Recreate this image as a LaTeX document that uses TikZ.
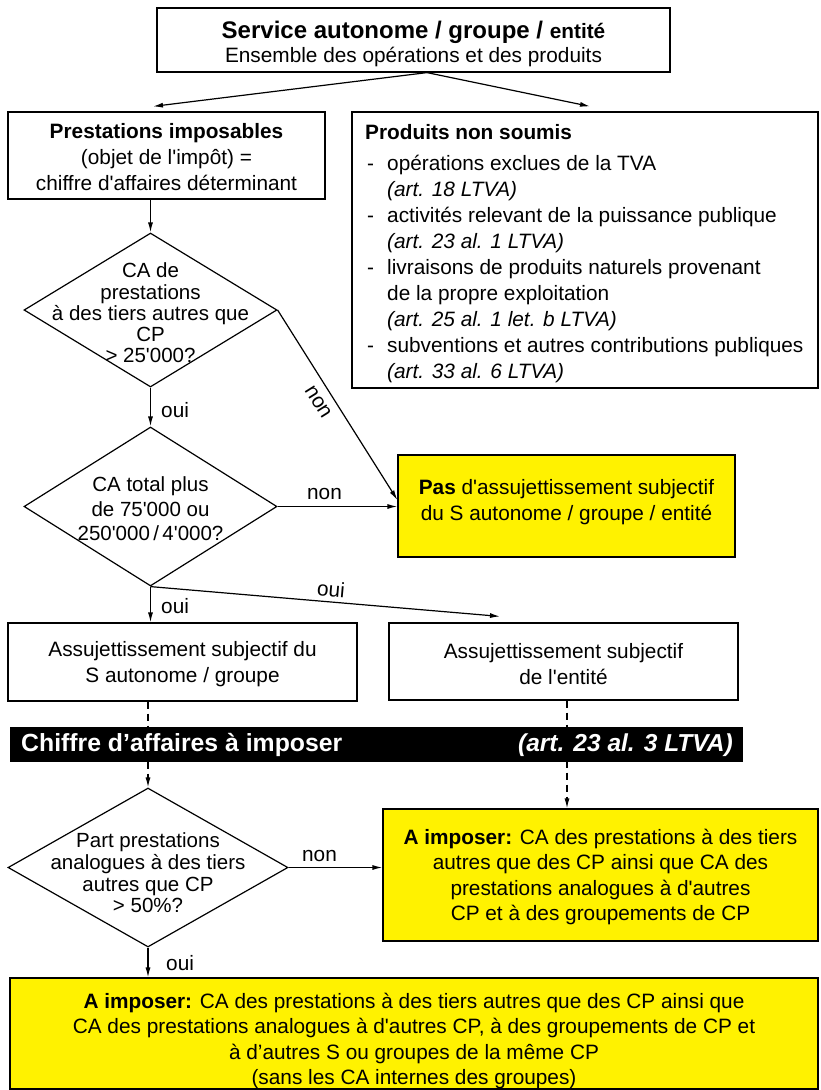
\documentclass[tikz,border=0pt]{standalone}
\usepackage{fontspec}
\setmainfont{Liberation Sans}[Ligatures=TeXOff]
\usetikzlibrary{shapes.geometric,arrows.meta}
\begin{document}
\begin{tikzpicture}[x=1pt,y=-1pt]
\tikzset{
  base/.style={font=\fontsize{20.8}{26}\selectfont, align=center, inner sep=0pt},
  box/.style={base, draw, line width=1.2pt},
  ybox/.style={box, fill=yellow},
  dia/.style={draw, line width=1.2pt, diamond, inner sep=0pt},
  arr/.style={line width=1.2pt, -{Latex[length=10pt,width=5pt]}},
  dashline/.style={dash pattern=on 7pt off 5pt},
  lbl/.style={font=\fontsize{20.8}{24}\selectfont, inner sep=0pt},
  bartext/.style={text=white, inner sep=0pt, font=\fontsize{24.8}{24}\selectfont\bfseries}
}
\useasboundingbox (0,0) rectangle (820,1090);
\fill[white] (0,0) rectangle (820,1090);

% boxes
\node[box, minimum width=513, minimum height=64] (top) at (413.5,40) {};
\node[base, font=\fontsize{20.8}{22}\selectfont] (topt) at (413.5,44)
  {{\fontsize{24}{22}\selectfont\bfseries Service autonome / groupe / \fontsize{20.8}{22}\selectfont entité}\\[2pt]Ensemble des opérations et des produits};
\node[box, minimum width=317, minimum height=87] (lb1) at (166.5,155.5) {};
\node[base] (lb1t) at (166.5,157.5)
  {\textbf{Prestations imposables}\\(objet de l'impôt) =\\chiffre d'affaires déterminant};
\node[box, minimum width=466, minimum height=276] (rb1) at (585,250) {};
\node[base, align=left, anchor=north west] (rb1t) at (365,124)
  {\textbf{Produits non soumis}\\[5pt]
   \makebox[22pt][l]{\hspace{2pt}-}opérations exclues de la TVA\\
   \hspace*{22pt}\textit{(art. 18 LTVA)}\\
   \makebox[22pt][l]{\hspace{2pt}-}activités relevant de la puissance publique\\
   \hspace*{22pt}\textit{(art. 23 al. 1 LTVA)}\\
   \makebox[22pt][l]{\hspace{2pt}-}livraisons de produits naturels provenant\\
   \hspace*{22pt}de la propre exploitation\\
   \hspace*{22pt}\textit{(art. 25 al. 1 let. b LTVA)}\\
   \makebox[22pt][l]{\hspace{2pt}-}subventions et autres contributions publiques\\
   \hspace*{22pt}\textit{(art. 33 al. 6 LTVA)}};

% diamonds
\node[dia, minimum width=253, minimum height=154] (d1) at (150.5,310) {};
\node[lbl, align=center, font=\fontsize{20.5}{21.3}\selectfont] (d1t) at (150.5,313)
  {CA de\\prestations\\à des tiers autres que\\CP\\> 25'000?};
\node[dia, minimum width=253, minimum height=159] (d2) at (150.5,506.5) {};
\node[lbl, align=center, font=\fontsize{20.5}{24.5}\selectfont] (d2t) at (150.5,509)
  {CA total plus\\de 75'000 ou\\250'000\,/\,4'000?};
\node[dia, minimum width=280, minimum height=159] (d3) at (148,867.5) {};
\node[lbl, align=center, font=\fontsize{20.5}{21.7}\selectfont] (d3t) at (148,873)
  {Part prestations\\analogues à des tiers\\autres que CP\\> 50\%?};

\node[ybox, minimum width=337, minimum height=102] (yb1) at (566.5,506) {};
\node[base] (yb1t) at (566.5,502) {\textbf{Pas} d'assujettissement subjectif\\du S autonome / groupe / entité};

\node[box, minimum width=349, minimum height=78] (lb2) at (182.5,662) {};
\node[base] (lb2t) at (182.5,664) {Assujettissement subjectif du\\S autonome / groupe};
\node[box, minimum width=349, minimum height=77] (rb2) at (563.5,661.5) {};
\node[base] (rb2t) at (563.5,664) {Assujettissement subjectif\\de l'entité};

\node[ybox, minimum width=435, minimum height=132] (yb2) at (600.5,875) {};
\node[base, font=\fontsize{20.8}{25.3}\selectfont] (yb2t) at (600.5,877)
  {\textbf{A imposer:} CA des prestations à des tiers\\autres que des CP ainsi que CA des\\prestations analogues à d'autres\\CP et à des groupements de CP};
\node[ybox, minimum width=808, minimum height=111] (bb) at (414,1033.5) {};
\node[base, font=\fontsize{20.8}{25.3}\selectfont] (bbt) at (414,1041)
  {\textbf{A imposer:} CA des prestations à des tiers autres que des CP ainsi que\\CA des prestations analogues à d'autres CP, à des groupements de CP et\\à d’autres S ou groupes de la même CP\\(sans les CA internes des groupes)};

% connectors
\draw[arr] ([xshift=13.5pt]top.south) -- ([xshift=-13.5pt,yshift=5pt]lb1.north);
\draw[arr] ([xshift=13.5pt]top.south) -- ([xshift=5pt,yshift=5pt]rb1.north);
\draw[arr] (lb1.south -| d1.north) -- (d1.north);
\draw[arr] (d1.south) -- (d2.north);
\draw[arr] (d1.east) -- ([yshift=6pt]yb1.west);
\draw[arr] (d2.east) -- (d2.east -| yb1.west);
\draw[arr] (d2.south) -- (d2.south |- lb2.north);
\draw[arr] (d2.south) -- ([xshift=-63.5pt,yshift=6pt]rb2.north);
\draw[arr, dashline] (d3.north |- lb2.south) -- (d3.north);
\draw[arr, dashline] ([xshift=3.5pt]rb2.south) -- ([xshift=3.5pt]rb2.south |- yb2.north);
\draw[arr] (d3.east) -- (d3.east -| yb2.west);
\draw[arr] (d3.south) -- (d3.south |- bb.north);

% black bar
\node[fill=black, minimum width=733, minimum height=35, inner sep=0pt] (bar) at (376.5,744.5) {};
\node[bartext, anchor=west] (bart1) at (21,745) {Chiffre d’affaires à imposer};
\node[bartext, anchor=east, font=\fontsize{24.5}{24}\selectfont\bfseries] (bart2) at (733,745) {\itshape (art. 23 al. 3 LTVA)};

% labels
\node[lbl, anchor=west] (o1) at (161,410) {oui};
\node[lbl, rotate=-58] (n1) at (318,402) {non};
\node[lbl] (n2) at (324.5,494) {non};
\node[lbl, anchor=west] (o2) at (161,606) {oui};
\node[lbl, rotate=-5] (o3) at (331,589) {oui};
\node[lbl] (n3) at (319.5,856) {non};
\node[lbl, anchor=west] (o4) at (166,963) {oui};
\end{tikzpicture}
\end{document}
